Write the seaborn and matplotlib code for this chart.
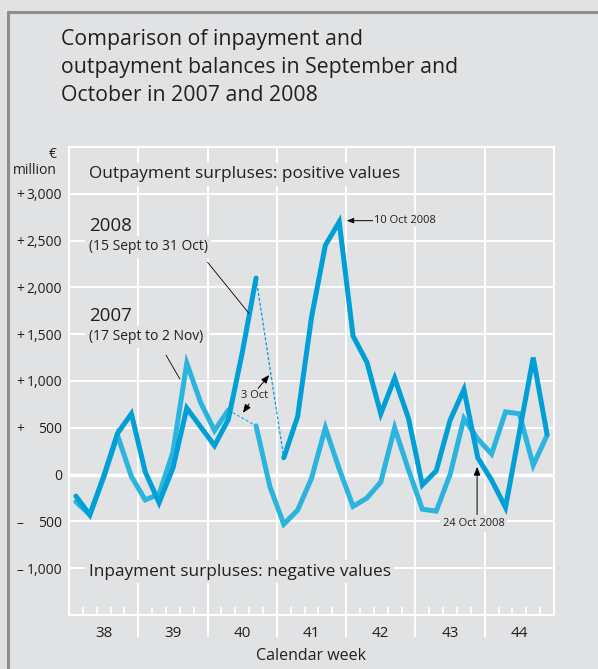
import numpy as np
import pandas as pd
import matplotlib
matplotlib.use("Agg")
import matplotlib.pyplot as plt
from matplotlib.lines import Line2D
from matplotlib.transforms import blended_transform_factory
import seaborn as sns

# Daily balances, EUR million (NaN = 3 Oct holiday)
dates_2008 = pd.bdate_range("2008-09-15", "2008-10-31")
dates_2007 = pd.bdate_range("2007-09-17", "2007-11-02")
vals_2008 = [-230, -430, -20, 440, 650, 30, -300, 70, 710, 510,
             310, 590, 1300, 2100, np.nan, 180, 620, 1680, 2450, 2700,
             1480, 1200, 650, 1030, 600, -110, 40, 580, 910, 180,
             -60, -350, 450, 1250, 430]
vals_2007 = [-290, -430, -30, 420, -20, -270, -210, 240, 1190, 770,
             470, 690, np.nan, 520, -130, -530, -380, -40, 500, 60,
             -340, -250, -80, 500, 50, -370, -390, 0, 600, 380,
             220, 670, 650, 100, 420]
weeks = [38, 39, 40, 41, 42, 43, 44]
ytick_vals = [3000, 2500, 2000, 1500, 1000, 500, 0, -500, -1000]
ytick_labels = ["3,000", "2,500", "2,000", "1,500", "1,000", "500", "0", "500", "1,000"]

BG = "#e1e2e4"
C2008 = "#009fd6"
C2007 = "#2bb4de"
TXT = "#231f20"


def week_pos(dates):
    iso = dates.isocalendar()
    return (iso["week"].astype(float) - 0.4 + 0.2 * dates.weekday).to_numpy()


def make_df(dates, vals):
    df = pd.DataFrame({"x": week_pos(dates), "y": vals})
    df["seg"] = df["y"].isna().cumsum()
    return df


df08 = make_df(dates_2008, vals_2008)
df07 = make_df(dates_2007, vals_2007)

sns.set_style("white")
plt.rcParams["font.family"] = ["Open Sans", "DejaVu Sans"]

fig = plt.figure(figsize=(5.98, 6.69), dpi=100, facecolor=BG)
ax = fig.add_axes([69 / 598, 54 / 669, 485 / 598, 468 / 669])
ax.set_facecolor(BG)

# grid
for v in ytick_vals:
    ax.axhline(v, color="white", lw=2.4 if v == 0 else 1.4, zorder=0.5)
bounds = [w + 0.5 for w in weeks[:-1]]
ax.vlines(bounds, -0.047, 1, transform=ax.get_xaxis_transform(),
          color="white", lw=1.4, clip_on=False, zorder=0.5)

# lines
for df, col in [(df07, C2007), (df08, C2008)]:
    for seg, part in df.dropna().groupby("seg"):
        sns.lineplot(data=part, x="x", y="y", color=col, lw=3.6,
                     estimator=None, sort=False, ax=ax, zorder=4,
                     solid_joinstyle="miter")
    # dashed link across the holiday gap
    gap = df.index[df["y"].isna()]
    for g in gap:
        ax.plot(df.loc[[g - 1, g + 1], "x"], df.loc[[g - 1, g + 1], "y"],
                color=col, lw=0.9, ls=(0, (2.5, 1.5)), zorder=3)

ax.set_xlim(37.5, 44.5)
ax.set_ylim(-1500, 3500)
ax.set_xticks(weeks)
ax.set_xticklabels([str(w) for w in weeks])
ax.set_xticks([w - 0.5 + 0.2 * j for w in weeks for j in range(1, 5)], minor=True)
ax.tick_params(axis="x", which="major", length=0, pad=8, labelsize=11, labelcolor=TXT)
ax.tick_params(axis="x", which="minor", direction="in", length=6, width=1.2,
               color="white", bottom=True)
ax.set_yticks(ytick_vals)
ax.set_yticklabels(ytick_labels)
ax.tick_params(axis="y", length=0, pad=5, labelsize=10, labelcolor=TXT)
ax.set_xlabel("")
ax.set_ylabel("")
for s in ax.spines.values():
    s.set_color("white")
    s.set_linewidth(1.5)
    s.set_visible(True)

# sign column for the y labels
sign_tr = blended_transform_factory(fig.transFigure, ax.transData)
for v in ytick_vals:
    if v != 0:
        ax.text(20 / 598, v, "+" if v > 0 else "\u2013", transform=sign_tr,
                fontsize=10, color=TXT, ha="center", va="center_baseline")

box = dict(facecolor=BG, edgecolor="none", pad=2.5)
ax.text(0.041, 0.942, "Outpayment surpluses: positive values", transform=ax.transAxes,
        fontsize=12.4, color=TXT, va="center", ha="left", bbox=box, zorder=2)
ax.text(0.041, 0.092, "Inpayment surpluses: negative values", transform=ax.transAxes,
        fontsize=12.4, color=TXT, va="center", ha="left", bbox=box, zorder=2)
ax.text(0.041, 0.831, "2008", transform=ax.transAxes, fontsize=13.5, color=TXT,
        va="center", ha="left", bbox=box, zorder=2)
ax.text(0.041, 0.787, "(15 Sept to 31 Oct)", transform=ax.transAxes, fontsize=10,
        color=TXT, va="center", ha="left", bbox=box, zorder=2)
ax.text(0.041, 0.639, "2007", transform=ax.transAxes, fontsize=13.5, color=TXT,
        va="center", ha="left", bbox=box, zorder=2)
ax.text(0.041, 0.595, "(17 Sept to 2 Nov)", transform=ax.transAxes, fontsize=10,
        color=TXT, va="center", ha="left", bbox=box, zorder=2)

# leader lines
ax.plot([39.50, 40.10], [2269, 1720], color="black", lw=0.6, zorder=5)
ax.plot([38.90, 39.10], [1277, 1021], color="black", lw=0.6, zorder=5)

arr = dict(arrowstyle="-|>,head_length=0.5,head_width=0.2", color="black", lw=0.7,
           shrinkA=0, shrinkB=0)
ax.text(40.18, 840, "3 Oct", fontsize=8, color=TXT, ha="center", va="center", zorder=5)
ax.annotate("", xy=(40.39, 1064), xytext=(40.23, 922), arrowprops=arr, zorder=5)
ax.annotate("", xy=(40.01, 660), xytext=(40.10, 755), arrowprops=arr, zorder=5)
ax.annotate("10 Oct 2008", xy=(41.51, 2713), xytext=(41.905, 2713), fontsize=8,
            color=TXT, va="center", ha="left", arrowprops=arr,
            bbox=dict(facecolor=BG, edgecolor="none", pad=1), zorder=5)
ax.annotate("", xy=(43.39, 82), xytext=(43.39, -426), arrowprops=arr, zorder=5)
ax.text(43.34, -521, "24 Oct 2008", fontsize=8, color=TXT, ha="center", va="center",
        bbox=dict(facecolor=BG, edgecolor="none", pad=2), zorder=2)

# title and labels
for i, line in enumerate(["Comparison of inpayment and",
                          "outpayment balances in September and",
                          "October in 2007 and 2008"]):
    fig.text(61 / 598, 1 - (45 + 28 * i) / 669, line, fontsize=15.3, color=TXT,
             ha="left", va="baseline")
fig.text(57 / 598, 1 - 155 / 669, "\u20ac", fontsize=10, color=TXT, ha="right", va="center")
fig.text(57 / 598, 1 - 170 / 669, "million", fontsize=10, color=TXT, ha="right", va="center")
fig.text(311 / 598, 1 - 656 / 669, "Calendar week", fontsize=11.5, color=TXT,
         ha="center", va="center")

# frame
fig.add_artist(Line2D([8 / 598, 8 / 598], [0, 1 - 12 / 669], color="#8e8e8e", lw=2.2,
                      transform=fig.transFigure))
fig.add_artist(Line2D([8 / 598, 1], [1 - 12 / 669, 1 - 12 / 669], color="#8e8e8e", lw=2.2,
                      transform=fig.transFigure))

fig.savefig("out.png", dpi=100, facecolor=BG)
